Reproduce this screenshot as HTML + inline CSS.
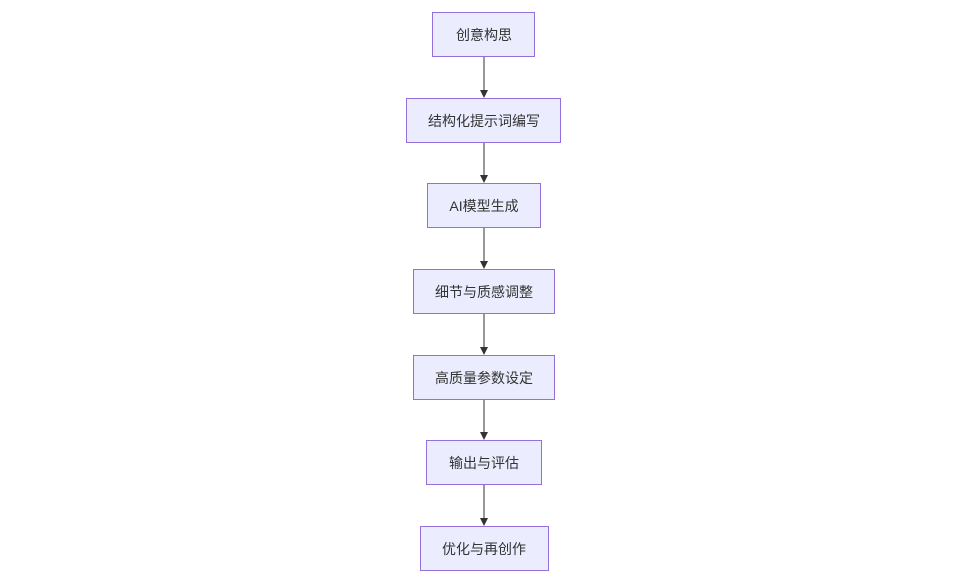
<!DOCTYPE html>
<html><head><meta charset="utf-8"><style>
html,body{margin:0;padding:0;background:#fff;width:960px;height:585px;overflow:hidden}
svg text{font-family:"Liberation Sans","Noto Sans CJK SC",sans-serif;font-size:14px;fill:#333}
</style></head><body>
<svg width="960" height="585" viewBox="0 0 960 585" xmlns="http://www.w3.org/2000/svg">
<defs><marker id="a" markerWidth="8" markerHeight="8" refX="7" refY="4" orient="auto" markerUnits="userSpaceOnUse"><path d="M0,0L8,4L0,8z" fill="#333"/></marker></defs>
<g stroke="#333" stroke-width="1" marker-end="url(#a)">
<line x1="484" y1="57" x2="484" y2="97"/>
<line x1="484" y1="142" x2="484" y2="182"/>
<line x1="484" y1="228" x2="484" y2="268"/>
<line x1="484" y1="313" x2="484" y2="354"/>
<line x1="484" y1="399" x2="484" y2="439"/>
<line x1="484" y1="485" x2="484" y2="525"/>
</g>
<g fill="#ECECFF" stroke="#9370DB" stroke-width="1">
<rect x="432.5" y="12.5" width="102" height="44"/>
<rect x="406.5" y="98.5" width="154" height="44"/>
<rect x="427.5" y="183.5" width="113" height="44"/>
<rect x="413.5" y="269.5" width="141" height="44"/>
<rect x="413.5" y="355.5" width="141" height="44"/>
<rect x="426.5" y="440.5" width="115" height="44"/>
<rect x="420.5" y="526.5" width="128" height="44"/>
</g>
<g text-anchor="middle">
<text x="484" y="40">创意构思</text>
<text x="484" y="126">结构化提示词编写</text>
<text x="484" y="211">AI模型生成</text>
<text x="484" y="297">细节与质感调整</text>
<text x="484" y="383">高质量参数设定</text>
<text x="484" y="468">输出与评估</text>
<text x="484" y="554">优化与再创作</text>
</g>
</svg>
</body></html>
